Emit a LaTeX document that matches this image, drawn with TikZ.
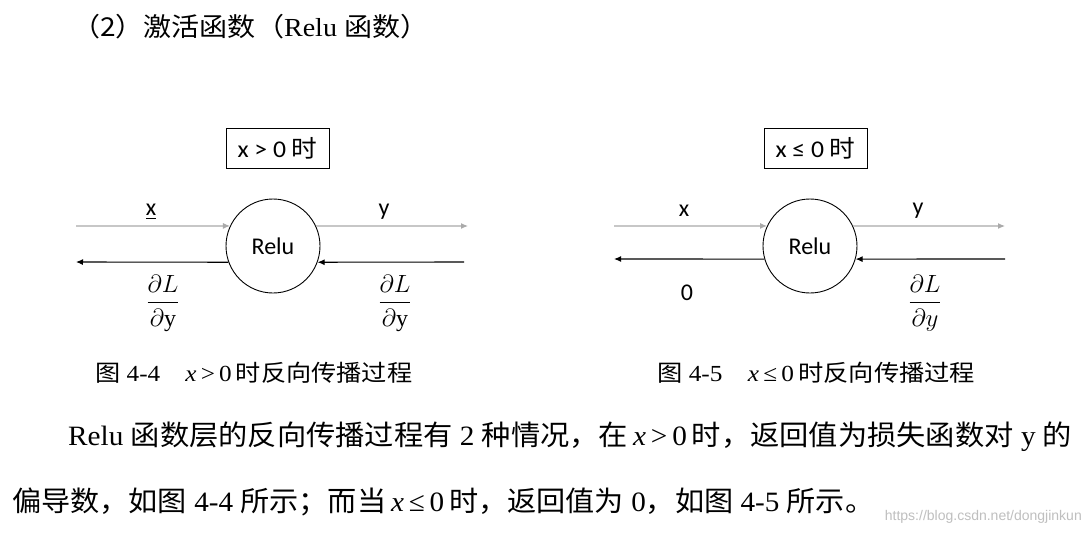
\documentclass[tikz,border=0pt]{standalone}
\usepackage{amsmath}
\usepackage{graphicx}
\usepackage{fontspec}
\setmainfont{Liberation Serif}
\newfontfamily\cjk{Noto Sans CJK SC}
\newfontfamily\calfont{Carlito}
\newfontfamily\wmfont{Liberation Sans}
\usetikzlibrary{arrows.meta}
\newcommand{\zh}[1]{{\cjk #1}}
\newcommand{\fitw}[2]{\resizebox{#1}{\height}{#2}}
\definecolor{lgray}{RGB}{170,170,170}
\begin{document}
\begin{tikzpicture}[x=1pt,y=-1pt,
  diag/.style={font=\calfont\fontsize{24}{28}\selectfont, inner sep=0pt},
  lbox/.style={diag, draw, line width=0.9pt, minimum width=103pt, minimum height=40pt},
  circ/.style={diag, draw, circle, line width=0.9pt, minimum size=94pt},
  fwd/.style={lgray, line width=1.1pt, -{Latex[length=7pt,width=6pt]}},
  bwd/.style={black, line width=1.1pt, -{Latex[length=7pt,width=6pt]}},
  fracnode/.style={inner sep=0pt, font=\fontsize{24}{28}\selectfont},
  captext/.style={anchor=west, inner sep=0pt, font=\fontsize{23}{26}\selectfont},
  para/.style={anchor=west, inner sep=0pt, font=\fontsize{28}{32}\selectfont}]
\useasboundingbox[fill=white] (0,0) rectangle (1088,536);
% title
\node[anchor=west, inner sep=0pt, font=\fontsize{26}{30}\selectfont] (title) at (72,27) {\fitw{356pt}{\zh{（2）激活函数（}Relu \zh{函数）}}};
% left diagram
\node[lbox] (b1) at (277.5,148) {\fitw{80pt}{x > 0 \zh{时}}};
\node[circ] (c1) at (273,246) {Relu};
\coordinate (l1) at (76,226);
\coordinate (r1) at (468,226);
\coordinate (l2) at (76,262);
\coordinate (r2) at (464,262);
\draw[fwd] (l1) -- (c1.155);
\draw[fwd] (c1.25) -- (r1);
\draw[bwd] (c1.200) -- (l2);
\draw[bwd] (r2) -- (c1.340);
\node[diag] (x1) at (151,212) {\underline{x}};
\node[diag] (y1) at (384,212) {y};
\node[fracnode] (f1) at (163,303) {$\dfrac{\partial L}{\partial \mathrm{y}}$};
\node[fracnode] (f2) at (395,303) {$\dfrac{\partial L}{\partial \mathrm{y}}$};
% right diagram
\node[lbox] (b2) at (815.5,148) {\fitw{80pt}{x ≤ 0 \zh{时}}};
\node[circ] (c2) at (810,246) {Relu};
\coordinate (l3) at (614,226);
\coordinate (r3) at (1005,226);
\coordinate (l4) at (614,259);
\coordinate (r4) at (1005,259);
\draw[fwd] (l3) -- (c2.155);
\draw[fwd] (c2.25) -- (r3);
\draw[bwd] (c2.196) -- (l4);
\draw[bwd] (r4) -- (c2.344);
\node[diag] (x2) at (684,211) {x};
\node[diag] (y2) at (918,211) {y};
\node[diag] (z2) at (687,293) {0};
\node[fracnode] (f3) at (925,303) {$\dfrac{\partial L}{\partial y}$};
% captions
\node[captext] (cap1) at (95,373) {\fitw{317pt}{\zh{图} 4-4\quad{\itshape x}\,>\,0\,\zh{时反向传播过程}}};
\node[captext] (cap2) at (657,373) {\fitw{318pt}{\zh{图} 4-5\quad{\itshape x}\,≤\,0\,\zh{时反向传播过程}}};
% paragraph
\node[para] (p1) at (68,437) {\fitw{1004pt}{Relu \zh{函数层的反向传播过程有} 2 \zh{种情况，在}\,{\itshape x}\,>\,0\,\zh{时，返回值为损失函数对} y \zh{的}}};
\node[para] (p2) at (12,502) {\fitw{862pt}{\zh{偏导数，如图} 4-4 \zh{所示；而当}\,{\itshape x}\,≤\,0\,\zh{时，返回值为} 0\zh{，如图} 4-5 \zh{所示。}}};
\node[anchor=east, inner sep=0pt, text=black!25, font=\wmfont\fontsize{14}{16}\selectfont] (wm) at (1082,517) {https://blog.csdn.net/dongjinkun};
\end{tikzpicture}
\end{document}
